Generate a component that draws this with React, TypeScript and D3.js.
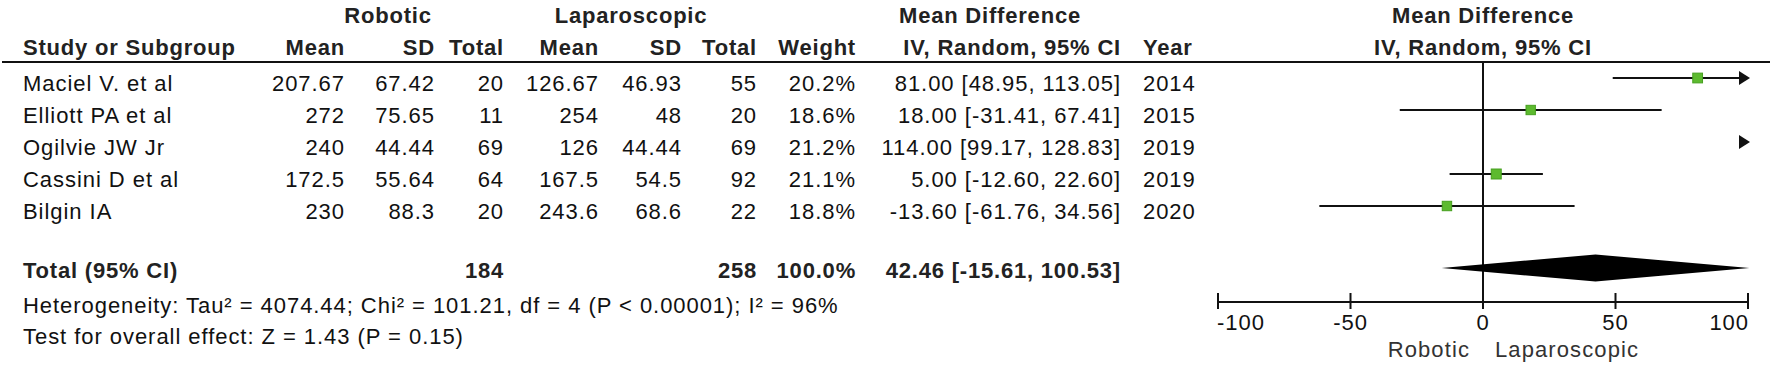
import * as d3 from "d3";

// study rows
const studies = ["Maciel V. et al", "Elliott PA et al", "Ogilvie JW Jr", "Cassini D et al", "Bilgin IA"];
const roboticMean = [207.67, 272, 240, 172.5, 230];
const roboticSD = [67.42, 75.65, 44.44, 55.64, 88.3];
const roboticTotal = [20, 11, 69, 64, 20];
const lapMean = [126.67, 254, 126, 167.5, 243.6];
const lapSD = [46.93, 48, 44.44, 54.5, 68.6];
const lapTotal = [55, 20, 69, 92, 22];
const weights = [20.2, 18.6, 21.2, 21.1, 18.8];
const meanDiff = [81.0, 18.0, 114.0, 5.0, -13.6];
const ciLow = [48.95, -31.41, 99.17, -12.6, -61.76];
const ciHigh = [113.05, 67.41, 128.83, 22.6, 34.56];
const years = [2014, 2015, 2019, 2019, 2020];

// pooled result
const totalRobotic = 184;
const totalLap = 258;
const totalWeight = 100.0;
const pooledMD = 42.46;
const pooledLow = -15.61;
const pooledHigh = 100.53;

const heterogeneity = "Heterogeneity: Tau² = 4074.44; Chi² = 101.21, df = 4 (P < 0.00001); I² = 96%";
const overallTest = "Test for overall effect: Z = 1.43 (P = 0.15)";

const axisTicks = [-100, -50, 0, 50, 100];
const favoursLeft = "Robotic";
const favoursRight = "Laparoscopic";

const W = 1772;
const H = 367;
const FONT = "'Liberation Sans', Arial, Helvetica, sans-serif";

export default function App() {
  const x = d3.scaleLinear().domain([-100, 100]).range([1218, 1748]);
  const row = d3.scaleLinear().domain([0, 1]).range([78, 110]);
  const [xmin, xmax] = x.domain();

  // right edges of the table columns
  const col = {
    study: 23,
    rMean: 345,
    rSD: 435,
    rTot: 504,
    lMean: 599,
    lSD: 682,
    lTot: 757,
    weight: 856,
    ci: 1121,
    year: 1143,
  };

  // plain hyphen for negatives, like the original
  const fmt2 = (v: number) => d3.format(".2f")(v).replace("\u2212", "-");
  const ciText = (m: number, lo: number, hi: number) => `${fmt2(m)} [${fmt2(lo)}, ${fmt2(hi)}]`;

  const txt = {
    fontFamily: FONT,
    fontSize: 22,
    letterSpacing: 0.95,
    fill: "#111",
  } as const;
  const bold = { ...txt, fontWeight: 700, letterSpacing: 0.8, fill: "#222" } as const;

  const arrow = (xTip: number, y: number) =>
    `M${xTip},${y} L${xTip - 11},${y - 7} L${xTip - 11},${y + 7} Z`;

  const sq = (w: number) => 10 * Math.sqrt(w / 21.2);

  return (
    <svg width={W} height={H} style={{ position: "absolute", left: 0, top: 0, background: "#fff" }}>
      <rect width={W} height={H} fill="#fff" />

      {/* header */}
      <text {...bold} x={388} y={23} textAnchor="middle">Robotic</text>
      <text {...bold} x={631} y={23} textAnchor="middle">Laparoscopic</text>
      <text {...bold} x={990} y={23} textAnchor="middle">Mean Difference</text>
      <text {...bold} x={x(0)} y={23} textAnchor="middle">Mean Difference</text>

      <text {...bold} x={col.study} y={55}>Study or Subgroup</text>
      <text {...bold} x={col.rMean} y={55} textAnchor="end">Mean</text>
      <text {...bold} x={col.rSD} y={55} textAnchor="end">SD</text>
      <text {...bold} x={col.rTot} y={55} textAnchor="end">Total</text>
      <text {...bold} x={col.lMean} y={55} textAnchor="end">Mean</text>
      <text {...bold} x={col.lSD} y={55} textAnchor="end">SD</text>
      <text {...bold} x={col.lTot} y={55} textAnchor="end">Total</text>
      <text {...bold} x={col.weight} y={55} textAnchor="end">Weight</text>
      <text {...bold} x={col.ci} y={55} textAnchor="end">IV, Random, 95% CI</text>
      <text {...bold} x={col.year} y={55}>Year</text>
      <text {...bold} x={x(0)} y={55} textAnchor="middle">IV, Random, 95% CI</text>

      <line x1={2} x2={1770} y1={62} y2={62} stroke="#111" strokeWidth={2} />

      {/* study rows */}
      {studies.map((s, i) => {
        const yc = row(i);
        const yb = yc + 13;
        const lo = Math.max(ciLow[i], xmin);
        const hi = Math.min(ciHigh[i], xmax);
        const inRange = meanDiff[i] >= xmin && meanDiff[i] <= xmax;
        const size = sq(weights[i]);
        return (
          <g key={s}>
            <text {...txt} x={col.study} y={yb}>{s}</text>
            <text {...txt} x={col.rMean} y={yb} textAnchor="end">{roboticMean[i]}</text>
            <text {...txt} x={col.rSD} y={yb} textAnchor="end">{roboticSD[i]}</text>
            <text {...txt} x={col.rTot} y={yb} textAnchor="end">{roboticTotal[i]}</text>
            <text {...txt} x={col.lMean} y={yb} textAnchor="end">{lapMean[i]}</text>
            <text {...txt} x={col.lSD} y={yb} textAnchor="end">{lapSD[i]}</text>
            <text {...txt} x={col.lTot} y={yb} textAnchor="end">{lapTotal[i]}</text>
            <text {...txt} x={col.weight} y={yb} textAnchor="end">{weights[i].toFixed(1)}%</text>
            <text {...txt} x={col.ci} y={yb} textAnchor="end">{ciText(meanDiff[i], ciLow[i], ciHigh[i])}</text>
            <text {...txt} x={col.year} y={yb}>{years[i]}</text>

            {lo < hi && (
              <line x1={x(lo)} x2={ciHigh[i] > xmax ? x(xmax) - 6 : x(hi)} y1={yc} y2={yc} stroke="#111" strokeWidth={2} />
            )}
            {ciHigh[i] > xmax && <path d={arrow(x(xmax) + 2, yc)} fill="#111" />}
            {ciLow[i] < xmin && <path d={`M${x(xmin) - 2},${yc} l11,-7 l0,14 Z`} fill="#111" />}
            {inRange && (
              <rect
                x={x(meanDiff[i]) - size / 2}
                y={yc - size / 2}
                width={size}
                height={size}
                fill="#5dba2f"
                stroke="#46a01f"
                strokeWidth={1}
              />
            )}
          </g>
        );
      })}

      {/* total row */}
      <text {...bold} x={col.study} y={278}>Total (95% CI)</text>
      <text {...bold} x={col.rTot} y={278} textAnchor="end">{totalRobotic}</text>
      <text {...bold} x={col.lTot} y={278} textAnchor="end">{totalLap}</text>
      <text {...bold} x={col.weight} y={278} textAnchor="end">{totalWeight.toFixed(1)}%</text>
      <text {...bold} x={col.ci} y={278} textAnchor="end">{ciText(pooledMD, pooledLow, pooledHigh)}</text>

      <text {...txt} x={col.study} y={313}>{heterogeneity}</text>
      <text {...txt} x={col.study} y={344}>{overallTest}</text>

      {/* zero line */}
      <line x1={x(0)} x2={x(0)} y1={62} y2={302} stroke="#111" strokeWidth={2} />

      {/* pooled diamond */}
      <path
        d={`M${x(pooledLow)},268 L${x(pooledMD)},254.5 L${x(pooledHigh)},268 L${x(pooledMD)},281.5 Z`}
        fill="#000"
      />

      {/* axis */}
      <line x1={x(xmin)} x2={x(xmax)} y1={302} y2={302} stroke="#111" strokeWidth={2} />
      {axisTicks.map((t, i) => (
        <g key={t}>
          <line x1={x(t)} x2={x(t)} y1={293} y2={309} stroke="#111" strokeWidth={2} />
          <text
            {...txt}
            x={i === 0 ? x(t) - 1 : i === axisTicks.length - 1 ? x(t) + 1 : x(t)}
            y={330}
            textAnchor={i === 0 ? "start" : i === axisTicks.length - 1 ? "end" : "middle"}
          >
            {String(t)}
          </text>
        </g>
      ))}
      <text {...txt} fill="#333" letterSpacing={1.1} x={x(0) - 13} y={357} textAnchor="end">{favoursLeft}</text>
      <text {...txt} fill="#333" letterSpacing={1.1} x={x(0) + 12} y={357}>{favoursRight}</text>
    </svg>
  );
}
